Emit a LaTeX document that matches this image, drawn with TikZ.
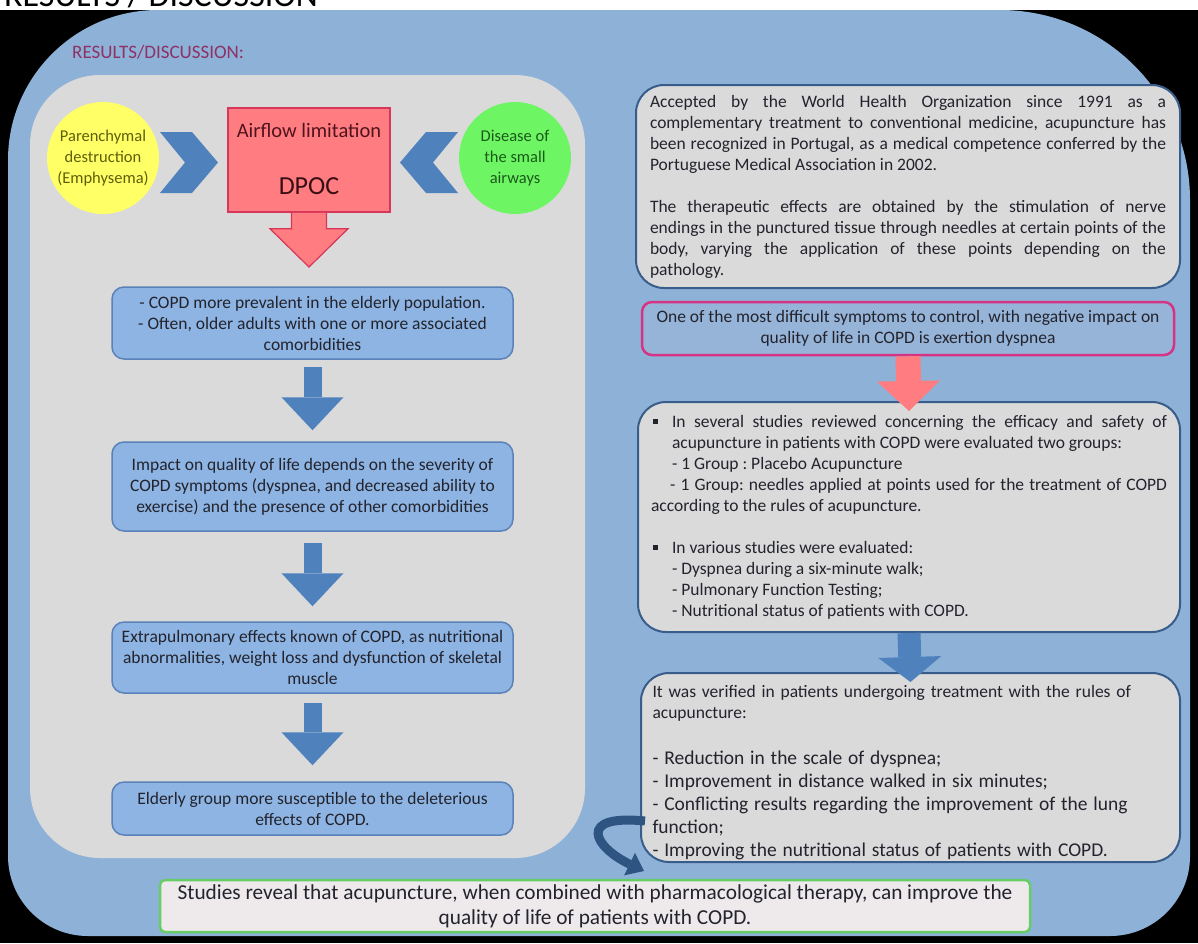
\documentclass[tikz,border=0pt]{standalone}
\usepackage{fontspec}
\setmainfont{Carlito}
\usetikzlibrary{arrows.meta}
\definecolor{bgblue}{RGB}{142,177,216}
\definecolor{panelgray}{RGB}{218,218,218}
\definecolor{boxblue}{RGB}{141,180,226}
\definecolor{boxborder}{RGB}{90,130,185}
\definecolor{arrowblue}{RGB}{79,129,189}
\definecolor{rgray}{RGB}{218,218,218}
\definecolor{rborder}{RGB}{56,93,138}
\definecolor{pinkborder}{RGB}{214,51,132}
\definecolor{rtwofill}{RGB}{150,180,216}
\definecolor{redfill}{RGB}{255,124,128}
\definecolor{redborder}{RGB}{214,54,90}
\definecolor{yellowc}{RGB}{255,255,102}
\definecolor{greenc}{RGB}{110,245,100}
\definecolor{greenborder}{RGB}{102,204,102}
\definecolor{greenfill}{RGB}{238,234,236}
\definecolor{curvecol}{RGB}{46,84,130}
\definecolor{textdark}{RGB}{35,35,45}
\definecolor{titlecol}{RGB}{140,50,100}
\definecolor{olivetext}{RGB}{95,95,10}
\definecolor{greentext}{RGB}{25,90,25}
\definecolor{redtext}{RGB}{80,20,30}
\newcommand\sqbullet{\llap{\raisebox{3.5pt}{\rule{5pt}{5pt}}\hspace{14pt}}}
\frenchspacing
\begin{document}
\frenchspacing
\begin{tikzpicture}[x=1pt,y=-1pt,
  lbox/.style={draw=boxborder, line width=1.5pt, fill=boxblue, rounded corners=12pt,
    minimum width=401pt, align=center, inner sep=0pt, text=textdark,
    font=\fontsize{17.5}{21}\selectfont},
  rbox/.style={draw=rborder, line width=2pt, fill=rgray, rounded corners=28pt,
    text width=516pt, inner sep=0pt, text=textdark, font=\fontsize{17.5}{21}\selectfont},
  barrow/.style={draw=arrowblue, line width=18pt, -{Triangle[length=33pt,width=62pt,line width=0pt]}},
  rarrowblue/.style={draw=arrowblue, line width=23pt, -{Triangle[length=25pt,width=63pt,line width=0pt]}},
  parrow/.style={draw=redfill, line width=25pt, -{Triangle[length=30pt,width=63pt,line width=0pt]}},
  chevron/.style={fill=arrowblue},
  blob/.style={circle, minimum size=112pt, inner sep=0pt, align=center, font=\fontsize{16.5}{21}\selectfont}
]
\useasboundingbox (0,0) rectangle (1198,943);
% frame
\fill[black] (0,0) rectangle (1198,943);
\fill[white] (0,0) rectangle (1198,10);
\begin{scope}
  \clip (0,0) rectangle (1198,10);
  \node[anchor=base west, inner sep=0pt, font=\fontsize{34}{34}\selectfont] (cuttitle) at (4,6) {RESULTS / DISCUSSION};
\end{scope}
\fill[bgblue] (8,500) [rounded corners=150pt] |- (600,10) [rounded corners=190pt] -| (1190,500)
  [rounded corners=80pt] |- (600,936) -| (8,500) -- cycle;

% title
\node[anchor=west, inner sep=0pt, text=titlecol, font=\fontsize{19}{22}\selectfont] (title) at (72,52) {RESULTS/DISCUSSION:};

% left panel
\node[fill=panelgray, rounded corners=70pt, minimum width=555pt, minimum height=783pt, inner sep=0pt] (panel) at (307.5,466.5) {};

% circles
\node[blob, fill=yellowc, text=olivetext] (emph) at (103,158) {Parenchymal\\destruction\\(Emphysema)};
\node[blob, fill=greenc, text=greentext] (small) at (515,158) {Disease of\\the small\\airways};

% red box
\node[draw=redborder, line width=1.5pt, fill=redfill, minimum width=162pt, minimum height=104pt, inner sep=0pt] (dpoc) at (309,160) {};
\node[text=redtext, font=\fontsize{20.5}{24}\selectfont, inner sep=0pt] (airflow) at (309,130) {Airflow limitation};
\node[text=redtext!70!black, font=\fontsize{26}{30}\selectfont, inner sep=0pt] (dpoclabel) at (309,186) {DPOC};

% chevrons
\fill[chevron] (160,132) -- (192,132) -- (218,162.5) -- (192,193) -- (160,193) -- (185,162.5) -- cycle;
\fill[chevron] (458,132) -- (426,132) -- (400,162.5) -- (426,193) -- (458,193) -- (433,162.5) -- cycle;

% red arrow
\coordinate (rtip) at (309,267);
\filldraw[fill=redfill, draw=redborder, line width=1.2pt]
  ([xshift=-17.5pt]dpoc.south) -- ([xshift=-17.5pt,yshift=-16pt]dpoc.south)
  -- ([xshift=-39pt,yshift=-16pt]dpoc.south) -- (rtip)
  -- ([xshift=39pt,yshift=-16pt]dpoc.south) -- ([xshift=17.5pt,yshift=-16pt]dpoc.south)
  -- ([xshift=17.5pt]dpoc.south);

% left column boxes
\node[lbox, minimum height=72pt] (b1) at (312.5,323) {- COPD more prevalent in the elderly population.\\- Often, older adults with one or more associated\\comorbidities};
\node[lbox, minimum height=89pt] (b2) at (312.5,486.5) {Impact on quality of life depends on the severity of\\COPD symptoms (dyspnea, and decreased ability to\\exercise) and the presence of other comorbidities};
\node[lbox, minimum height=71pt] (b3) at (312.5,657.5) {Extrapulmonary effects known of COPD, as nutritional\\abnormalities, weight loss and dysfunction of skeletal\\muscle};
\node[lbox, minimum height=53pt] (b4) at (312.5,808.5) {Elderly group more susceptible to the deleterious\\effects of COPD.};

\draw[barrow] ([yshift=-7pt]b1.south) -- ([yshift=11pt]b2.north);
\draw[barrow] ([yshift=-11pt]b2.south) -- ([yshift=15pt]b3.north);
\draw[barrow] ([yshift=-9pt]b3.south) -- ([yshift=16pt]b4.north);

% right column
\node[rbox, align=justify, minimum width=544pt, minimum height=203pt] (r1) at (908,186.5) {\noindent Accepted by the World Health Organization since 1991 as a\linebreak complementary treatment to conventional medicine, acupuncture has\linebreak been recognized in Portugal, as a medical competence conferred by the\linebreak Portuguese Medical Association in 2002.\par
\vspace{21pt}\noindent The therapeutic effects are obtained by the stimulation of nerve\linebreak endings in the punctured tissue through needles at certain points of the\linebreak body, varying the application of these points depending on the\linebreak pathology.};

\node[draw=pinkborder, line width=2.5pt, fill=rtwofill, rounded corners=10pt, minimum width=532pt, minimum height=53pt, inner sep=0pt, align=center, text=textdark, font=\fontsize{17.5}{21}\selectfont] (r2) at (908,328.5) {One of the most difficult symptoms to control, with negative impact on\\quality of life in COPD is exertion dyspnea};

\node[rbox, align=justify, minimum width=542pt, minimum height=230pt] (r3) at (909,517) {{\noindent\hangindent=21pt \hangafter=0 \sqbullet In several studies reviewed concerning the efficacy and safety of\linebreak acupuncture in patients with COPD were evaluated two groups:\\- 1 Group : Placebo Acupuncture\par}
\noindent\hspace*{19pt}- 1 Group: needles applied at points used for the treatment of COPD\linebreak according to the rules of acupuncture.\par
\vspace{21pt}{\noindent\hangindent=21pt \hangafter=0 \sqbullet In various studies were evaluated:\\- Dyspnea during a six-minute walk;\\- Pulmonary Function Testing;\\- Nutritional status of patients with COPD.\par}};

\node[rbox, align=left, minimum width=539pt, minimum height=189pt] (r4) at (910.5,767.5) {\noindent\rule{0pt}{22pt}It was verified in patients undergoing treatment with the rules of\\acupuncture:\par
\vspace{23pt}{\fontsize{19.5}{23}\selectfont\noindent - Reduction in the scale of dyspnea;\\- Improvement in distance walked in six minutes;\\- Conflicting results regarding the improvement of the lung\\function;\\- Improving the nutritional status of patients with COPD.\par}};

\draw[parrow] (r2.south) -- ([yshift=-10pt]r3.north);
\draw[rarrowblue] (r3.south) -- ([yshift=-10pt]r4.north);

% conclusion
\node[draw=greenborder, line width=2.5pt, fill=greenfill, rounded corners=5pt, minimum width=870pt, minimum height=52pt, inner sep=0pt, align=center, text=textdark, font=\fontsize{21.3}{25}\selectfont] (concl) at (595,906) {Studies reveal that acupuncture, when combined with pharmacological therapy, can improve the\\quality of life of patients with COPD.};

% curved arrow
\coordinate (cs) at (645,821);
\coordinate (ce) at (644,871);
\draw[curvecol, line width=9pt, -{Triangle[length=16pt,width=25pt,line width=0pt]}] (cs) .. controls (576,814) and (594,847) .. (ce);
\end{tikzpicture}
\end{document}
